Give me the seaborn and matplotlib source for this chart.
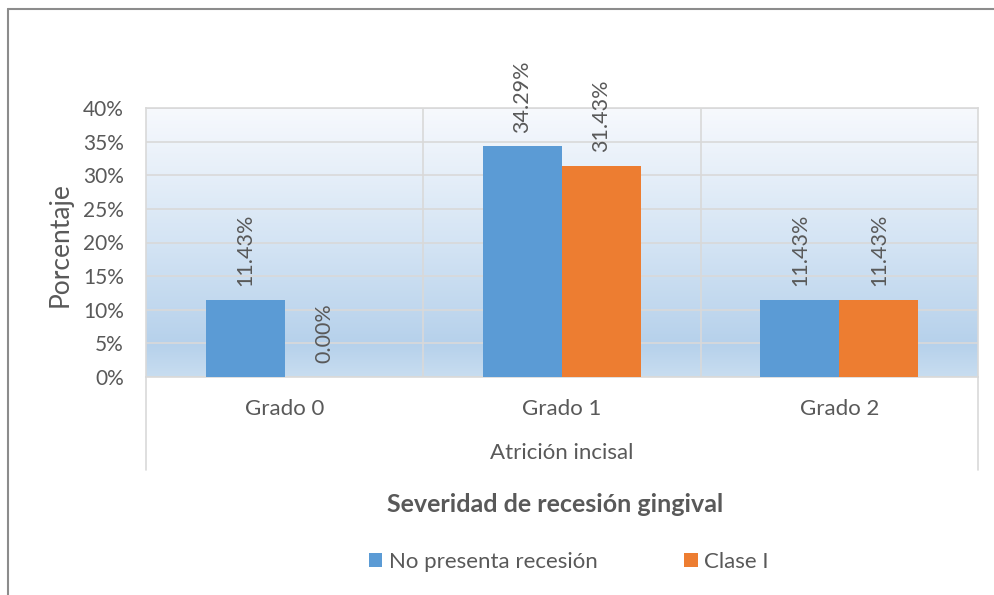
import numpy as np
import pandas as pd
import matplotlib
matplotlib.use("Agg")
import matplotlib.pyplot as plt
import seaborn as sns
from matplotlib.colors import LinearSegmentedColormap
from matplotlib.patches import Patch
from matplotlib.lines import Line2D
from matplotlib.ticker import PercentFormatter

# data
grados = ["Grado 0", "Grado 1", "Grado 2"]
series = ["No presenta recesión", "Clase I"]
no_presenta = [0.1143, 0.3429, 0.1143]
clase_i = [0.0, 0.3143, 0.1143]
colores = ["#5B9BD5", "#ED7D31"]

df = pd.DataFrame({
    "grado": grados * 2,
    "serie": [series[0]] * 3 + [series[1]] * 3,
    "valor": no_presenta + clase_i,
})

sns.set_style("white")
plt.rcParams["font.family"] = ["Lato", "DejaVu Sans"]
txt = "#595959"
grid_c = "#d9d9d9"

W, H = 995, 595
fig = plt.figure(figsize=(W / 100, H / 100), dpi=100)
ax = fig.add_axes([146 / W, 1 - 377 / H, (978 - 146) / W, (377 - 108) / H])

# gradient background of the plot area
cmap = LinearSegmentedColormap.from_list(
    "bg", [(0.0, "#c8ddf0"), (0.12, "#b6d1eb"), (0.5, "#d4e4f4"), (1.0, "#f7f9fd")])
grad = np.linspace(0, 1, 256).reshape(-1, 1)
ax.imshow(grad, cmap=cmap, aspect="auto", origin="lower",
          extent=[0, 1, 0, 1], transform=ax.transAxes, zorder=0)

sns.barplot(data=df, x="grado", y="valor", hue="serie", palette=colores,
            width=0.57, saturation=1, linewidth=0, ax=ax, legend=False, zorder=3)

ax.set_xlim(-0.5, 2.5)
ax.set_ylim(0, 0.40)
ax.set_yticks(np.arange(0, 0.41, 0.05))
ax.yaxis.set_major_formatter(PercentFormatter(1.0, decimals=0))
ax.grid(axis="y", color=grid_c, linewidth=1.2, zorder=1)
ax.set_axisbelow(True)
for s in ax.spines.values():
    s.set_color(grid_c)
    s.set_linewidth(1.2)

# category separators
for xs in [0.5, 1.5]:
    ax.axvline(xs, color=grid_c, linewidth=1.2, zorder=1)
for xa in [0, 1]:
    ax.add_line(Line2D([xa, xa], [0, -93 / 269], transform=ax.transAxes,
                       color=grid_c, linewidth=1.2, clip_on=False))

ax.tick_params(axis="x", length=0, pad=16, labelsize=16, labelcolor=txt)
ax.tick_params(axis="y", length=0, pad=16, labelsize=15, labelcolor=txt)
ax.set_xlabel("")
ax.set_ylabel("")

# value labels
for cont in ax.containers:
    ax.bar_label(cont, labels=[f"{v * 100:.2f}%" for v in cont.datavalues],
                 rotation=90, padding=10, fontsize=15.5, color=txt)

fig.text(60 / W, 1 - 245 / H, "Porcentaje", rotation=90, ha="center", va="center",
         fontsize=19, color=txt)
fig.text(562 / W, 1 - 453 / H, "Atrición incisal", ha="center", va="center",
         fontsize=16, color=txt)
fig.text(555 / W, 1 - 505 / H, "Severidad de recesión gingival", ha="center",
         va="center", fontsize=18, fontweight="bold", color=txt)

handles = [Patch(facecolor=c, edgecolor="none") for c in colores]
fig.legend(handles, series, loc="center", bbox_to_anchor=(569 / W, 1 - 562 / H),
           ncol=2, frameon=False, fontsize=16, labelcolor=txt, handlelength=0.6,
           handleheight=0.6, handletextpad=0.3, columnspacing=3.9)

# outer chart border
fig.add_artist(Line2D([8 / W, 1], [1 - 9 / H, 1 - 9 / H], transform=fig.transFigure,
                      color="#8c8c8c", linewidth=1.5))
fig.add_artist(Line2D([8 / W, 8 / W], [0, 1 - 9 / H], transform=fig.transFigure,
                      color="#8c8c8c", linewidth=1.5))

fig.savefig("out.png", dpi=100, facecolor="white")
